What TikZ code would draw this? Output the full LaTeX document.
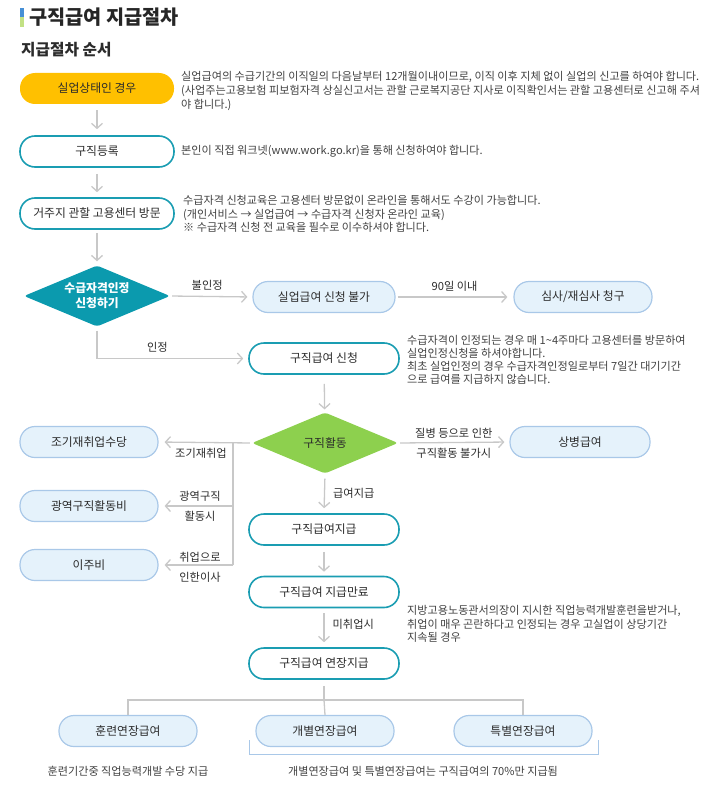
\documentclass[tikz,border=0pt]{standalone}
\usepackage{fontspec}
\setmainfont{Noto Sans CJK KR}
\usepackage[svgnames]{xcolor}
\usetikzlibrary{calc, arrows.meta, shapes.geometric}
\definecolor{jobOrange}{HTML}{FFC000}
\definecolor{jobTeal}{HTML}{1A9DB2}
\definecolor{jobTealFill}{HTML}{0B9AAE}
\definecolor{jobGreen}{HTML}{8DD04E}
\definecolor{jobSky}{HTML}{E5F2FB}
\definecolor{jobSkyLine}{HTML}{A9C8E8}
\definecolor{jobGrey}{HTML}{C8C8C8}
\definecolor{jobText}{HTML}{2B2B2B}
\tikzset{>={Straight Barb[length=5pt,width=11pt]},
  box/.style={rounded corners=15pt, minimum height=31pt, inner sep=0pt,
    text=jobText, font=\fontsize{11.8}{13}\selectfont},
  startbox/.style={box, fill=jobOrange, minimum width=154pt},
  tealbox/.style={box, draw=jobTeal, line width=1.6pt, fill=white, minimum width=150pt},
  skybox/.style={box, draw=jobSkyLine, line width=1.2pt, fill=jobSky, minimum width=138pt},
  decision/.style={diamond, aspect=2.4, inner sep=0pt, rounded corners=3pt,
    minimum width=146pt, minimum height=61pt, font=\fontsize{11.8}{14}\selectfont},
  flow/.style={draw=jobGrey, line width=1.3pt},
  note/.style={anchor=west, align=left, inner sep=0pt, text=jobText!90,
    font=\fontsize{11.1}{13.6}\selectfont},
  tag/.style={inner sep=0pt, text=jobText, font=\fontsize{11.2}{12}\selectfont}
}

\begin{document}
\begin{tikzpicture}[x=1pt, y=-1pt]
\useasboundingbox (0,0) rectangle (709,797);
% title
\fill[DodgerBlue!80!black!80] (20,8) rectangle (23.5,17.5);
\fill[YellowGreen!60] (20,17.5) rectangle (23.5,27);
\node[anchor=west, inner sep=0pt, font=\fontsize{19.7}{22}\selectfont\bfseries, text=black!85] (title) at (29,17) {구직급여 지급절차};
\node[anchor=west, inner sep=0pt, font=\fontsize{15.7}{18}\selectfont\bfseries, text=jobText] (sub) at (21,50) {지급절차 순서};

% main column
\node[startbox] (unemp) at (97,88.5) {실업상태인 경우};
\node[tealbox, minimum width=154pt] (reg) at (97,151.5) {구직등록};
\node[tealbox, minimum width=154pt] (visit) at (97,213.5) {거주지 관할 고용센터 방문};
\node[decision, fill=jobTealFill, text=white, align=center, font=\fontsize{11.8}{15}\selectfont\bfseries] (qualify) at (97,296) {수급자격인정\\신청하기};
\node[skybox, minimum width=142pt] (denied) at (324,297) {실업급여 신청 불가};
\node[skybox] (review) at (583,297) {심사/재심사 청구};
\node[tealbox] (apply) at (324,358.5) {구직급여 신청};
\node[decision, fill=jobGreen, text=jobText] (search) at (325,443) {구직활동};
\node[skybox, minimum width=140pt] (sick) at (580,442) {상병급여};
\node[skybox] (early) at (89,442) {조기재취업수당};
\node[skybox] (wide) at (89,506) {광역구직활동비};
\node[skybox] (move) at (89,565) {이주비};
\node[tealbox] (pay) at (324,529.5) {구직급여지급};
\node[tealbox] (done) at (324,592) {구직급여 지급만료};
\node[tealbox] (extend) at (324,663.5) {구직급여 연장지급};
\node[skybox] (train) at (128,731) {훈련연장급여};
\node[skybox] (indiv) at (325,731) {개별연장급여};
\node[skybox] (special) at (523,731) {특별연장급여};

% notes
\node[note] (n1) at (181,91) {실업급여의 수급기간의 이직일의 다음날부터 12개월이내이므로, 이직 이후 지체 없이 실업의 신고를 하여야 합니다.\\(사업주는고용보험 피보험자격 상실신고서는 관할 근로복지공단 지사로 이직확인서는 관할 고용센터로 신고해 주셔\\야 합니다.)};
\node[note] (n2) at (181,151) {본인이 직접 워크넷(www.work.go.kr)을 통해 신청하여야 합니다.};
\node[note] (n3) at (183,214) {수급자격 신청교육은 고용센터 방문없이 온라인을 통해서도 수강이 가능합니다.\\(개인서비스 → 실업급여 → 수급자격 신청자 온라인 교육)\\※ 수급자격 신청 전 교육을 필수로 이수하셔야 합니다.};
\node[note, font=\fontsize{11.1}{13}\selectfont] (n4) at (407,360) {수급자격이 인정되는 경우 매 1\textasciitilde4주마다 고용센터를 방문하여\\실업인정신청을 하셔야합니다.\\최초 실업인정의 경우 수급자격인정일로부터 7일간 대기기간\\으로 급여를 지급하지 않습니다.};
\node[note] (n5) at (407,624) {지방고용노동관서의장이 지시한 직업능력개발훈련을받거나,\\취업이 매우 곤란하다고 인정되는 경우 고실업이 상당기간\\지속될 경우};
\node[note, anchor=center] (n6) at (128,771) {훈련기간중 직업능력개발 수당 지급};
\node[note, anchor=center] (n7) at (423,771) {개별연장급여 및 특별연장급여는 구직급여의 70\%만 지급됨};

% connectors
\draw[flow, ->, shorten <=6pt, shorten >=6pt] (unemp) -- (reg);
\draw[flow, ->, shorten <=6pt, shorten >=5pt] (reg) -- (visit);
\draw[flow, ->, shorten <=3pt, shorten >=4pt] (visit) -- (qualify);
\draw[flow, ->, shorten <=2pt, shorten >=5pt] (qualify.east) -- (denied.west) node[tag, pos=0.45, above=5pt] {불인정};
\draw[flow, ->, shorten <=2pt, shorten >=6pt] (denied.east) -- (review.west) node[tag, midway, above=5pt] {90일 이내};
\draw[flow, ->, shorten <=4pt, shorten >=5pt] (qualify.south) |- (apply.west) node[tag, pos=0.7, above=5pt] {인정};
\draw[flow, ->, shorten <=9pt, shorten >=3pt] (apply) -- (search);
\draw[flow, ->, shorten <=2pt, shorten >=5pt] (search.east) -- (sick.west)
  node[tag, midway, above=4pt] {질병 등으로 인한} node[tag, midway, below=5pt] {구직활동 불가시};
\draw[flow, ->, shorten <=2pt, shorten >=6pt] (search.west) -- (early.east);
\coordinate (fork) at (233,442);
\draw[flow] (fork) -- (fork |- move.east);
\draw[flow, ->, shorten >=6pt] (fork |- wide.east) -- (wide.east);
\draw[flow, ->, shorten >=6pt] (fork |- move.east) -- (move.east);
\node[tag] (l1) at (201,453) {조기재취업};
\node[tag] (l2) at (200,496) {광역구직};
\node[tag] (l3) at (200,516) {활동시};
\node[tag] (l4) at (200,557) {취업으로};
\node[tag] (l5) at (200,577) {인한이사};
\draw[flow, ->, shorten <=5pt, shorten >=5pt] (search.south) -- (pay.north) node[tag, midway, right=8pt] {급여지급};
\draw[flow, ->, shorten <=6pt, shorten >=4pt] (pay) -- (done);
\draw[flow, ->, shorten <=5pt, shorten >=5pt] (done) -- (extend) node[tag, pos=0.4, right=8pt] {미취업시};

% branches
\coordinate (split) at (324,700);
\draw[flow, shorten <=6pt] (extend.south) -- (split);
\draw[flow] (train.north) |- (split) -| (special.north);
\draw[flow] (split) -- (indiv.north);
\draw[jobSkyLine, line width=0.8pt] (249,740) |- (598,754) -- (598,740);
\end{tikzpicture}
\end{document}
